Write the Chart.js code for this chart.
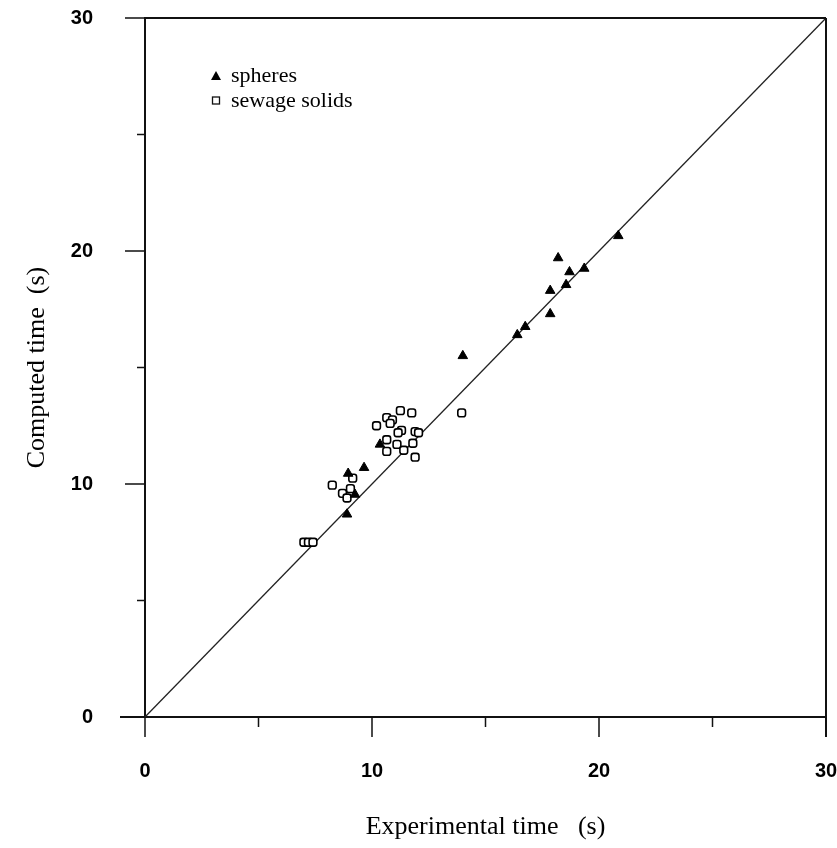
<!doctype html>
<html>
<head>
	<title>Computed vs experimental time</title>
	<script src="https://cdn.jsdelivr.net/npm/chart.js@4.4.0/dist/chart.umd.min.js"></script>
	<style>
		html, body { margin: 0; padding: 0; background: #fff; }
		.canvas-holder { width: 837px; height: 848px; }
	</style>
</head>
<body>
	<div class="canvas-holder">
		<canvas id="chart-area" width="837" height="848"></canvas>
	</div>

	<script>
		// spheres: [experimental, computed]
		var spheresX = [8.9, 9.25, 8.95, 9.65, 10.35, 14.0, 16.4, 16.75, 17.85, 17.85, 18.55, 18.2, 18.7, 19.35, 20.85];
		var spheresY = [8.7, 9.55, 10.45, 10.7, 11.7, 15.5, 16.4, 16.75, 17.3, 18.3, 18.55, 19.7, 19.1, 19.25, 20.65];

		// sewage solids
		var sewageX = [7.0, 7.2, 7.4, 8.25, 8.7, 9.05, 8.9, 9.15, 10.2, 10.65, 10.9, 10.8, 11.25, 11.75, 11.3, 11.9, 12.05, 11.15, 10.65, 10.65, 11.1, 11.4, 11.8, 11.9, 13.95];
		var sewageY = [7.5, 7.5, 7.5, 9.95, 9.6, 9.8, 9.4, 10.25, 12.5, 12.85, 12.75, 12.6, 13.15, 13.05, 12.3, 12.25, 12.2, 12.2, 11.9, 11.4, 11.7, 11.45, 11.75, 11.15, 13.05];

		// 1:1 line
		var lineX = [0, 30];
		var lineY = [0, 30];

		var majorTicks = [0, 10, 20, 30];
		var minorTicks = [5, 15, 25];

		function pts(xs, ys) {
			return xs.map(function (x, i) { return { x: x, y: ys[i] }; });
		}

		var tickFont = { family: '"Liberation Sans", Arial, sans-serif', size: 20, weight: 'bold' };
		var titleFont = { family: '"Liberation Serif", "Times New Roman", serif', size: 26 };

		// no extra padding from the tick labels, keep the box fixed
		function noPad(s) {
			s.paddingTop = 0;
			s.paddingBottom = 0;
			s.paddingLeft = 0;
			s.paddingRight = 0;
		}

		// frame, tick marks and inside legend
		var framePlugin = {
			id: 'frame',
			afterDraw: function (chart) {
				var ctx = chart.ctx;
				var a = chart.chartArea;
				var xs = chart.scales.x, ys = chart.scales.y;
				ctx.save();
				ctx.strokeStyle = '#111';
				ctx.lineWidth = 2;
				ctx.beginPath();
				ctx.moveTo(a.left, a.top);
				ctx.lineTo(a.right, a.top);
				ctx.moveTo(a.right, a.top);
				ctx.lineTo(a.right, a.bottom + 20);
				ctx.moveTo(a.left - 25, a.bottom);
				ctx.lineTo(a.left, a.bottom);
				ctx.stroke();

				ctx.lineWidth = 1.5;
				ctx.beginPath();
				majorTicks.forEach(function (v) {
					var py = ys.getPixelForValue(v);
					ctx.moveTo(a.left - 20, py);
					ctx.lineTo(a.left, py);
					var px = xs.getPixelForValue(v);
					ctx.moveTo(px, a.bottom);
					ctx.lineTo(px, a.bottom + 20);
				});
				minorTicks.forEach(function (v) {
					var py = ys.getPixelForValue(v);
					ctx.moveTo(a.left - 8, py);
					ctx.lineTo(a.left, py);
					var px = xs.getPixelForValue(v);
					ctx.moveTo(px, a.bottom);
					ctx.lineTo(px, a.bottom + 10);
				});
				ctx.stroke();

				// legend
				var lx = a.left + 71, ly = a.top + 58;
				ctx.fillStyle = '#000';
				ctx.beginPath();
				ctx.moveTo(lx, ly - 5);
				ctx.lineTo(lx + 5, ly + 4);
				ctx.lineTo(lx - 5, ly + 4);
				ctx.closePath();
				ctx.fill();
				ctx.lineWidth = 1.3;
				ctx.strokeRect(lx - 3.5, ly + 21, 7, 7);
				ctx.font = '22px "Liberation Serif", "Times New Roman", serif';
				ctx.textBaseline = 'middle';
				ctx.fillText('spheres', lx + 15, ly);
				ctx.fillText('sewage solids', lx + 15, ly + 25);
				ctx.restore();
			}
		};

		var ctx = document.getElementById('chart-area').getContext('2d');
		var chart = new Chart(ctx, {
			type: 'scatter',
			data: {
				datasets: [
					{
						label: 'spheres',
						data: pts(spheresX, spheresY),
						pointStyle: 'triangle',
						pointRadius: 5.5,
						backgroundColor: '#000',
						borderColor: '#000',
						borderWidth: 1
					},
					{
						label: 'sewage solids',
						data: pts(sewageX, sewageY),
						pointStyle: 'rectRounded',
						pointRadius: 4.5,
						backgroundColor: '#fff',
						borderColor: '#000',
						borderWidth: 1.6
					},
					{
						type: 'line',
						label: '1:1',
						data: pts(lineX, lineY),
						borderColor: '#222',
						borderWidth: 1.3,
						pointRadius: 0,
						fill: false
					}
				]
			},
			options: {
				responsive: false,
				animation: false,
				layout: { padding: { top: 18, right: 11 } },
				plugins: {
					legend: { display: false },
					tooltip: { enabled: false }
				},
				scales: {
					x: {
						type: 'linear',
						min: 0,
						max: 30,
						afterFit: function (s) { s.height = 131; noPad(s); },
						border: { display: true, color: '#111', width: 2 },
						grid: { drawOnChartArea: false, drawTicks: false },
						ticks: {
							stepSize: 10,
							padding: 42,
							color: '#000',
							font: tickFont
						},
						title: {
							display: true,
							text: 'Experimental time   (s)',
							color: '#000',
							font: titleFont,
							padding: { bottom: 5 }
						}
					},
					y: {
						type: 'linear',
						min: 0,
						max: 30,
						afterFit: function (s) { s.width = 145; noPad(s); },
						border: { display: true, color: '#111', width: 2 },
						grid: { drawOnChartArea: false, drawTicks: false },
						ticks: {
							stepSize: 10,
							padding: 52,
							color: '#000',
							font: tickFont
						},
						title: {
							display: true,
							text: 'Computed time  (s)',
							color: '#000',
							font: titleFont,
							padding: { top: 22 }
						}
					}
				}
			},
			plugins: [framePlugin]
		});
	</script>
</body>
</html>
